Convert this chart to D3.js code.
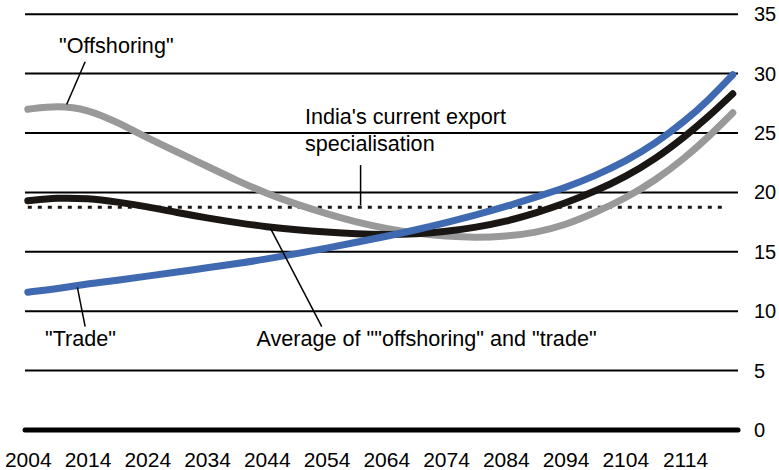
<!DOCTYPE html>
<html>
<head>
<meta charset="utf-8">
<script src="https://cdn.jsdelivr.net/npm/d3@7"></script>
<style>
  html, body { margin: 0; padding: 0; background: #fff; }
  svg { display: block; font-family: "Liberation Sans", Arial, sans-serif; }
</style>
</head>
<body>
<div id="chart"></div>
<script>
// values
const years = [2004, 2009, 2014, 2019, 2024, 2029, 2034, 2039, 2044, 2049, 2054, 2059, 2064,
               2069, 2074, 2079, 2084, 2089, 2094, 2099, 2104, 2109, 2114, 2118, 2122];
const offshoring = [27.0, 27.3, 27.0, 25.9, 24.6, 23.4, 22.2, 21.0, 19.9, 19.0, 18.2, 17.5, 16.95,
                    16.55, 16.3, 16.2, 16.3, 16.6, 17.25, 18.3, 19.5, 21.0, 22.9, 24.7, 26.7];
const trade = [11.6, 11.9, 12.3, 12.6, 12.95, 13.3, 13.65, 14.0, 14.4, 14.85, 15.3, 15.8, 16.3,
               16.85, 17.45, 18.1, 18.8, 19.6, 20.4, 21.4, 22.6, 24.1, 26.0, 27.8, 29.9];
const average = [19.3, 19.55, 19.5, 19.2, 18.8, 18.3, 17.85, 17.45, 17.1, 16.85, 16.65, 16.5, 16.45,
                 16.5, 16.7, 17.05, 17.55, 18.25, 19.1, 20.1, 21.3, 22.8, 24.7, 26.4, 28.3];
const indiaLevel = 18.75;
const indiaSpan = [2004, 2120.5];
const xTicks = [2004, 2014, 2024, 2034, 2044, 2054, 2064, 2074, 2084, 2094, 2104, 2114];
const yTicks = [0, 5, 10, 15, 20, 25, 30, 35];

const width = 779, height = 470;

const x = d3.scaleLinear().domain([2004, 2114]).range([27.8, 685]);
const y = d3.scaleLinear().domain([0, 35]).range([430, 14.2]);

const svg = d3.select("#chart").append("svg")
    .attr("width", width)
    .attr("height", height);

// horizontal grid
svg.append("g")
    .selectAll("line")
    .data(yTicks)
    .enter().append("line")
    .attr("x1", 25)
    .attr("x2", 738)
    .attr("y1", d => y(d))
    .attr("y2", d => y(d))
    .attr("stroke", "#000")
    .attr("stroke-width", d => d === 0 ? 5 : 2)
    .attr("stroke-linecap", d => d === 0 ? "round" : "butt");

// y labels on the right
const yAxis = svg.append("g")
    .attr("transform", "translate(754,0)")
    .call(d3.axisRight(y).tickValues(yTicks).tickSize(0).tickPadding(0));
yAxis.select(".domain").remove();
yAxis.selectAll("text")
    .attr("font-size", 20)
    .attr("font-family", "Liberation Sans, Arial, sans-serif")
    .attr("fill", "#000");

// x labels
const xAxis = svg.append("g")
    .attr("transform", "translate(0,467)")
    .call(d3.axisBottom(x).tickValues(xTicks).tickFormat(d3.format("d")).tickSize(0));
xAxis.select(".domain").remove();
xAxis.selectAll("text")
    .attr("y", 0)
    .attr("dy", 0)
    .attr("font-size", 21)
    .attr("font-family", "Liberation Sans, Arial, sans-serif")
    .attr("fill", "#000");

// India's current export specialisation (dotted)
svg.append("line")
    .attr("x1", x(indiaSpan[0]))
    .attr("x2", x(indiaSpan[1]))
    .attr("y1", y(indiaLevel))
    .attr("y2", y(indiaLevel))
    .attr("stroke", "#1a1614")
    .attr("stroke-width", 3)
    .attr("stroke-dasharray", "4,6");

const line = d3.line()
    .x(d => x(d[0]))
    .y(d => y(d[1]))
    .curve(d3.curveBasis);

const series = [
    { name: "offshoring", values: offshoring, color: "#999999" },
    { name: "average", values: average, color: "#1a1614" },
    { name: "trade", values: trade, color: "#3f69b0" }
];

svg.append("g")
    .selectAll("path")
    .data(series)
    .enter().append("path")
    .attr("d", d => line(years.map((yr, i) => [yr, d.values[i]])))
    .attr("fill", "none")
    .attr("stroke", d => d.color)
    .attr("stroke-width", 7)
    .attr("stroke-linecap", "round");

// annotations: pointer from/to in data units, label in pixels
const notes = [
    { text: ["\"Offshoring\""], tx: 59, ty: 52.7, from: [2013.6, 31.0], to: [2010.5, 27.4] },
    { text: ["\"Trade\""], tx: 45, ty: 346, from: [2012.3, 12.0], to: [2013.6, 8.7] },
    { text: ["Average of \"\"offshoring\" and \"trade\""], tx: 256.5, ty: 346, from: [2044.6, 17.0], to: [2053.2, 8.7] },
    { text: ["India's current export", "specialisation"], tx: 305, ty: 124.3, from: [2059.7, 22.3], to: [2059.7, 18.9] }
];

const note = svg.append("g").selectAll("g")
    .data(notes)
    .enter().append("g");

note.append("line")
    .attr("x1", d => x(d.from[0]))
    .attr("y1", d => y(d.from[1]))
    .attr("x2", d => x(d.to[0]))
    .attr("y2", d => y(d.to[1]))
    .attr("stroke", "#000")
    .attr("stroke-width", 1.5);

note.append("text")
    .attr("x", d => d.tx)
    .attr("y", d => d.ty)
    .attr("font-size", 21.6)
    .attr("fill", "#000")
    .selectAll("tspan")
    .data(d => d.text.map((t, i) => ({ t, i, x: d.tx })))
    .enter().append("tspan")
    .attr("x", d => d.x)
    .attr("dy", d => d.i === 0 ? 0 : 26.4)
    .text(d => d.t);
</script>
</body>
</html>
